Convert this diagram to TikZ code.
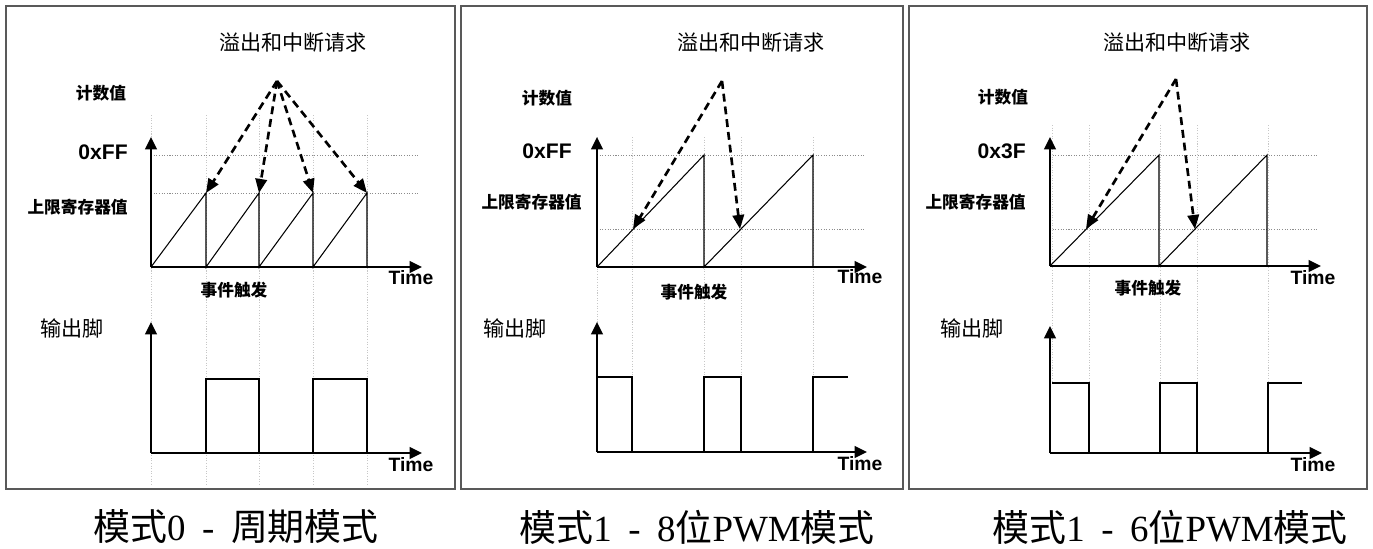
\documentclass[tikz,border=0pt]{standalone}
\usepackage{fontspec}
\setmainfont{Liberation Sans}
\newfontfamily\cjk{Noto Sans CJK SC}
\newfontfamily\capser{Liberation Serif}
\usetikzlibrary{arrows.meta}
\begin{document}
\begin{tikzpicture}[x=0.02cm,y=-0.02cm,
 frame/.style={draw=black!65,line width=1pt},
 axisline/.style={line width=1.5pt,-{Triangle[length=7pt,width=6.5pt]}},
 ramp/.style={line width=0.6pt},
 pulse/.style={line width=0.9pt},
 gridh/.style={draw=black!45,line width=0.5pt,dash pattern=on 0.6pt off 0.9pt},
 gridv/.style={draw=black!22,line width=0.5pt,dash pattern=on 0.6pt off 0.9pt},
 irq/.style={line width=1.5pt,dash pattern=on 4.5pt off 2.8pt,-{Triangle[length=8pt,width=6.5pt]}},
 txt/.style={inner sep=0pt},
 titletxt/.style={txt,font=\cjk\fontsize{12}{14}\selectfont},
 lab/.style={txt,font=\cjk\bfseries\fontsize{9.5}{11}\selectfont},
 hex/.style={txt,font=\bfseries\fontsize{12}{14}\selectfont},
 timelab/.style={txt,font=\bfseries\fontsize{11}{13}\selectfont},
 outlab/.style={txt,font=\cjk\fontsize{12}{14}\selectfont},
 captxt/.style={txt,font=\cjk\fontsize{21}{24}\selectfont},
]
\useasboundingbox (0,0) rectangle (1373,548);
\fill[white] (0,0) rectangle (1373,548);

% ================= Panel 1 =================
\draw[frame] (6,6) rectangle (455,489);
\foreach \x in {151,206,259,313,367} \draw[gridv] (\x,115) -- (\x,485);
\draw[gridh] (151,155) -- (419,155);
\draw[gridh] (151,193) -- (419,193);
\coordinate (a1o) at (151,267);
\draw[axisline] (a1o) -- (151,137);
\draw[axisline] (a1o) -- (422,267);
\draw[ramp] (151,267) -- (206,193) -- (206,267) -- (259,193) -- (259,267) -- (313,193) -- (313,267) -- (367,193) -- (367,267);
\coordinate (q1) at (277,81);
\coordinate (t1a) at (206,193);
\coordinate (t1b) at (259,193);
\coordinate (t1c) at (313,193);
\coordinate (t1d) at (367,193);
\draw[irq] (q1) -- (t1a);
\draw[irq] (q1) -- (t1b);
\draw[irq] (q1) -- (t1c);
\draw[irq] (q1) -- (t1d);
\node[titletxt] (ti1) at (293,43) {溢出和中断请求};
\node[lab] (cnt1) at (101,93) {计数值};
\node[hex,anchor=east] (ff1) at (128,152) {0xFF};
\node[lab,anchor=east] (up1) at (128,207) {上限寄存器值};
\node[timelab] (tm1) at (411,278) {Time};
\node[lab] (ev1) at (234,290) {事件触发};
\node[outlab] (op1) at (72,328) {输出脚};
\coordinate (b1o) at (151,453);
\draw[axisline] (b1o) -- (151,322);
\draw[axisline] (b1o) -- (422,453);
\draw[pulse] (206,453) -- (206,379) -- (259,379) -- (259,453);
\draw[pulse] (313,453) -- (313,379) -- (367,379) -- (367,453);
\node[timelab] (tm1b) at (411,465) {Time};
\node[captxt] (cap1) at (236,527) {模式{\capser 0\hspace{0.45em}-\hspace{0.45em}}周期模式};

% ================= Panel 2 =================
\draw[frame] (461,6) rectangle (903,489);
\foreach \x in {597,632,704,741,813} \draw[gridv] (\x,137) -- (\x,377);
\draw[gridh] (597,155) -- (864,155);
\draw[gridh] (597,229) -- (864,229);
\coordinate (a2o) at (597,267);
\draw[axisline] (a2o) -- (597,137);
\draw[axisline] (a2o) -- (867,267);
\draw[ramp] (597,267) -- (704,155) -- (704,267) -- (813,155) -- (813,267);
\coordinate (q2) at (722,81);
\coordinate (t2a) at (633,229);
\coordinate (t2b) at (740,229);
\draw[irq] (q2) -- (t2a);
\draw[irq] (q2) -- (t2b);
\node[titletxt] (ti2) at (751,43) {溢出和中断请求};
\node[lab] (cnt2) at (547,98) {计数值};
\node[hex,anchor=east] (ff2) at (572,151) {0xFF};
\node[lab,anchor=east] (up2) at (582,202) {上限寄存器值};
\node[timelab] (tm2) at (860,277) {Time};
\node[lab] (ev2) at (694,292) {事件触发};
\node[outlab] (op2) at (515,328) {输出脚};
\coordinate (b2o) at (597,452);
\draw[axisline] (b2o) -- (597,322);
\draw[axisline] (b2o) -- (867,452);
\draw[pulse] (597,377) -- (632,377) -- (632,452);
\draw[pulse] (704,452) -- (704,377) -- (741,377) -- (741,452);
\draw[pulse] (813,452) -- (813,377) -- (848,377);
\node[timelab] (tm2b) at (860,464) {Time};
\node[captxt] (cap2) at (697,527) {模式{\capser 1\hspace{0.45em}-\hspace{0.45em}8}位{\capser PWM}模式};

% ================= Panel 3 =================
\draw[frame] (909,6) rectangle (1367,489);
\foreach \x in {1052,1089,1160,1197,1268} \draw[gridv] (\x,125) -- (\x,383);
\draw[gridh] (1050,155) -- (1318,155);
\draw[gridh] (1050,229) -- (1318,229);
\coordinate (a3o) at (1050,266);
\draw[axisline] (a3o) -- (1050,137);
\draw[axisline] (a3o) -- (1321,266);
\draw[ramp] (1050,266) -- (1159,155) -- (1159,266) -- (1267,155) -- (1267,266);
\coordinate (q3) at (1176,79);
\coordinate (t3a) at (1086,229);
\coordinate (t3b) at (1195,229);
\draw[irq] (q3) -- (t3a);
\draw[irq] (q3) -- (t3b);
\node[titletxt] (ti3) at (1177,43) {溢出和中断请求};
\node[lab] (cnt3) at (1003,97) {计数值};
\node[hex,anchor=east] (ff3) at (1026,151) {0x3F};
\node[lab,anchor=east] (up3) at (1026,202) {上限寄存器值};
\node[timelab] (tm3) at (1313,278) {Time};
\node[lab] (ev3) at (1148,288) {事件触发};
\node[outlab] (op3) at (972,328) {输出脚};
\coordinate (b3o) at (1050,453);
\draw[axisline] (b3o) -- (1050,326);
\draw[axisline] (b3o) -- (1322,453);
\draw[pulse] (1052,383) -- (1089,383) -- (1089,453);
\draw[pulse] (1160,453) -- (1160,383) -- (1197,383) -- (1197,453);
\draw[pulse] (1268,453) -- (1268,383) -- (1302,383);
\node[timelab] (tm3b) at (1313,465) {Time};
\node[captxt] (cap3) at (1170,527) {模式{\capser 1\hspace{0.45em}-\hspace{0.45em}6}位{\capser PWM}模式};
\end{tikzpicture}
\end{document}
